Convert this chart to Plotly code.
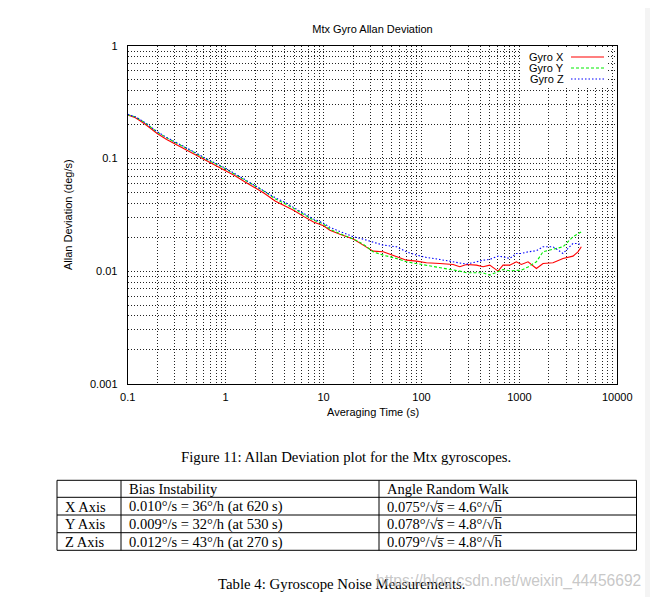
import plotly.graph_objects as go

# ---------------- data ----------------
tau = [0.1, 0.12, 0.15, 0.2, 0.25, 0.32, 0.4, 0.5, 0.63, 0.79, 1, 1.26, 1.58, 2, 2.5, 3.2, 4, 5, 6.3, 7.9, 10,
       11.6, 14.7, 20.1, 25.4, 32.1, 40.6, 55.6, 70.3, 88.9, 112.5, 153.9, 210.5, 246.2, 288, 364, 426, 498,
       606, 681, 797, 932, 1048, 1226, 1491, 1744, 2205, 2790, 3529, 3968, 4293]

gyro_x = [0.244, 0.230, 0.203, 0.167, 0.148, 0.132, 0.119, 0.107, 0.096, 0.087, 0.078, 0.070, 0.062, 0.055,
          0.049, 0.042, 0.038, 0.0345, 0.0305, 0.0273, 0.0253,
          0.0231, 0.0213, 0.0193, 0.01703, 0.01506, 0.01485, 0.01341, 0.01252, 0.01227, 0.01186, 0.0117,
          0.01146, 0.01093, 0.01146, 0.0113, 0.01093, 0.0113, 0.0100, 0.0113, 0.0113, 0.0121, 0.01146,
          0.0121, 0.01056, 0.0117, 0.01186, 0.01296, 0.01359, 0.01485, 0.01646]

gyro_y = [0.246, 0.234, 0.208, 0.172, 0.153, 0.137, 0.123, 0.111, 0.099, 0.090, 0.081, 0.072, 0.064, 0.057,
          0.051, 0.044, 0.040, 0.036, 0.0318, 0.0284, 0.0262,
          0.0236, 0.0215, 0.0193, 0.01738, 0.01485, 0.01388, 0.01296, 0.0121, 0.0117, 0.01115, 0.01071,
          0.0102, 0.0100, 0.00966, 0.00966, 0.00966, 0.00921, 0.00986, 0.01035, 0.01007, 0.0102, 0.0102,
          0.0109, 0.0121, 0.01485, 0.0156, 0.01646, 0.0202, 0.0216, 0.0223]

gyro_z = [0.247, 0.235, 0.209, 0.173, 0.154, 0.138, 0.124, 0.112, 0.100, 0.091, 0.082, 0.073, 0.065, 0.058,
          0.052, 0.045, 0.041, 0.0368, 0.0325, 0.029, 0.0267,
          0.0245, 0.0225, 0.0202, 0.01925, 0.01798, 0.01703, 0.01646, 0.01485, 0.01388, 0.01323, 0.0127,
          0.0121, 0.01194, 0.01154, 0.0121, 0.01252, 0.0127, 0.01359, 0.01341, 0.01296, 0.01436, 0.01436,
          0.01485, 0.01516, 0.01646, 0.01646, 0.01436, 0.01762, 0.01762, 0.01703]

series_names = ["Gyro X", "Gyro Y", "Gyro Z"]
x_decades = [0.1, 1, 10, 100, 1000, 10000]
x_tick_labels = ["0.1", "1", "10", "100", "1000", "10000"]
y_decades = [0.001, 0.01, 0.1, 1]
y_tick_labels = ["0.001", "0.01", "0.1", "1"]

table_header = ["", "Bias Instability", "Angle Random Walk"]
table_axes = ["X Axis", "Y Axis", "Z Axis"]
bias_instability = ["0.010°/s = 36°/h (at 620 s)",
                    "0.009°/s = 32°/h (at 530 s)",
                    "0.012°/s = 43°/h (at 270 s)"]
angle_random_walk = ["0.075°/√s\u0305 = 4.6°/√h\u0305",
                     "0.078°/√s\u0305 = 4.8°/√h\u0305",
                     "0.079°/√s\u0305 = 4.8°/√h\u0305"]

title_text = "Mtx Gyro Allan Deviation"
x_title = "Averaging Time (s)"
y_title = "Allan Deviation (deg/s)"
figure_caption = "Figure 11: Allan Deviation plot for the Mtx gyroscopes."
table_caption = "Table 4: Gyroscope Noise Measurements."
watermark = "https://blog.csdn.net/weixin_44456692"

# ---------------- geometry helpers ----------------
W, H = 658, 597
OX, OY = 8, 8   # page body margin offset
def px(x):
    return (x - OX) / W
def py(y):
    return 1 - (y - OY) / H

SANS = "Liberation Sans, Arial, sans-serif"
SERIF = "Liberation Serif, Times New Roman, serif"

def grid_vals(decades):
    vals = []
    for d in decades[:-1]:
        for m in range(1, 10):
            vals.append(d * m)
    vals.append(decades[-1])
    return vals

xv = grid_vals(x_decades)
yv = grid_vals(y_decades)
xt = [x_tick_labels[x_decades.index(v)] if v in x_decades else "" for v in xv]
yt = [y_tick_labels[y_decades.index(v)] if v in y_decades else "" for v in yv]

fig = go.Figure()

colors = ["#ff0000", "#00ee00", "#0000ff"]
dashes = ["solid", "3px,2px", "1.5px,2px"]
for name, ys, c, d in zip(series_names, [gyro_x, gyro_y, gyro_z], colors, dashes):
    fig.add_trace(go.Scatter(x=tau, y=ys, mode="lines", name=name,
                             line=dict(color=c, width=1.1, dash=d), showlegend=False))

axis_common = dict(type="log", showline=True, linecolor="black", linewidth=1, mirror=True,
                   showgrid=True, gridcolor="#222222", gridwidth=1, griddash="1px,2px",
                   ticks="", zeroline=False, tickmode="array", automargin=False,
                   tickfont=dict(family=SANS, size=11, color="black"))

fig.update_layout(
    width=W, height=H,
    margin=dict(l=0, r=0, t=0, b=0),
    paper_bgcolor="white", plot_bgcolor="white",
    xaxis=dict(axis_common, range=[-1, 4], tickvals=xv, ticktext=xt,
               domain=[px(127.7), px(617.3)], ticklabelstandoff=3),
    yaxis=dict(axis_common, range=[-3, 0], tickvals=yv, ticktext=yt,
               domain=[py(383.7), py(46)], ticklabelstandoff=7),
    title=dict(text=title_text, x=px(372.5), xanchor="center", y=py(29), yanchor="middle",
               font=dict(family=SANS, size=11, color="black")),
)

ann = []
def text(t, x, y, font, xanchor="center", angle=0):
    ann.append(dict(text=t, x=px(x), y=py(y), xref="paper", yref="paper", textangle=angle,
                    showarrow=False, xanchor=xanchor, yanchor="middle", font=font))

sans11 = dict(family=SANS, size=11, color="black")
serif_cap = dict(family=SERIF, size=14.8, color="black")
serif_tab = dict(family=SERIF, size=14.5, color="black")

text(x_title, 372.5, 412, sans11)
text(y_title, 68, 215, sans11, angle=-90)
text(figure_caption, 346, 457, serif_cap)
text(table_caption, 342, 584, serif_cap)

shapes = [dict(type="rect", xref="paper", yref="paper", x0=px(521), x1=px(608), y0=py(86), y1=py(49),
               fillcolor="white", line=dict(width=0), layer="above"),
          dict(type="rect", xref="paper", yref="paper", x0=px(645), x1=px(700), y0=py(700), y1=py(0),
               fillcolor="#f4f4f4", line=dict(width=0), layer="below")]

# gnuplot-style key: text then sample line
key_y = [57, 68, 79]
for name, c, d, yk in zip(series_names, colors, dashes, key_y):
    text(name, 566, yk, sans11, xanchor="right")
    shapes.append(dict(type="line", xref="paper", yref="paper", x0=px(571), x1=px(604),
                       y0=py(yk), y1=py(yk), line=dict(color=c, width=1.1, dash=d), layer="above"))

# table
row_edges = [480.3, 497.3, 515.0, 532.7, 550.3]
col_edges = [57, 121, 379, 636.5]
for ry in row_edges:
    shapes.append(dict(type="line", xref="paper", yref="paper", x0=px(col_edges[0]), x1=px(col_edges[-1]),
                       y0=py(ry), y1=py(ry), line=dict(color="black", width=1)))
for cx in col_edges:
    shapes.append(dict(type="line", xref="paper", yref="paper", x0=px(cx), x1=px(cx),
                       y0=py(row_edges[0]), y1=py(row_edges[-1]), line=dict(color="black", width=1)))
columns = [[table_header[0]] + table_axes, [table_header[1]] + bias_instability,
           [table_header[2]] + angle_random_walk]
for ci, col in enumerate(columns):
    for ri, val in enumerate(col):
        if not val:
            continue
        yc = (row_edges[ri] + row_edges[ri + 1]) / 2 + 0.5
        text(val, col_edges[ci] + 5.5, yc, serif_tab, xanchor="left")

text(watermark, 374, 581, dict(family=SANS, size=15.6, color="rgba(185,185,185,0.8)"), xanchor="left")

fig.update_layout(annotations=ann, shapes=shapes)
fig.write_html("out.html")
